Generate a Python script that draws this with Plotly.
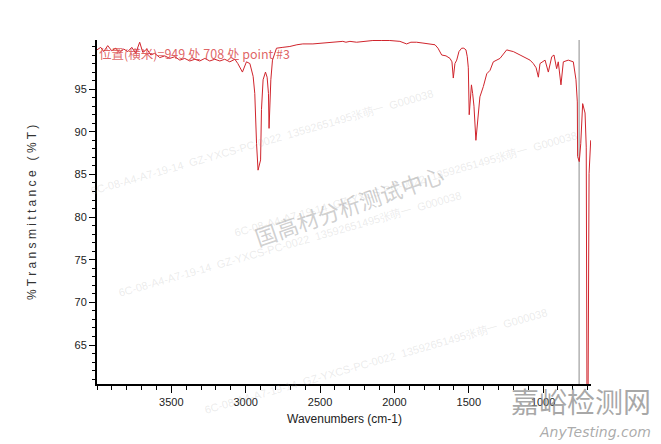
import plotly.graph_objects as go

# Spectrum data (wavenumber cm-1, % transmittance)
wavenumbers = [4000, 3975, 3955, 3928, 3901, 3874, 3847, 3820, 3793, 3766, 3740, 3713, 3692, 3665,
               3638, 3612, 3578, 3544, 3511, 3477, 3443, 3410, 3376, 3342, 3309, 3275, 3242, 3208,
               3174, 3141, 3107, 3073, 3053, 3022, 2995, 2972, 2950, 2939, 2927, 2917, 2900, 2894,
               2883, 2867, 2856, 2847, 2843, 2838, 2831, 2820, 2793, 2750, 2703, 2656, 2616, 2548,
               2481, 2414, 2347, 2326, 2299, 2254, 2198, 2145, 2085, 2031, 1963, 1918, 1889, 1851,
               1808, 1761, 1727, 1707, 1682, 1653, 1626, 1613, 1604, 1593, 1581, 1566, 1548, 1533,
               1519, 1510, 1503, 1497, 1487, 1482, 1474, 1465, 1452, 1445, 1436, 1425, 1402, 1379,
               1357, 1335, 1290, 1245, 1223, 1200, 1155, 1110, 1088, 1066, 1047, 1032, 1021, 987,
               965, 942, 927, 909, 898, 880, 864, 831, 797, 779, 770, 768, 757, 747, 734, 718,
               710, 705, 698, 691, 680]
transmittance = [99.6, 99.9, 99.4, 100.1, 99.5, 99.8, 99.3, 99.7, 99.4, 99.9, 99.2, 100.5, 99.3, 99.7,
                 99.0, 99.2, 98.7, 98.9, 98.6, 98.8, 98.4, 98.6, 98.3, 98.5, 98.3, 98.6, 98.3, 98.5,
                 98.3, 98.5, 98.2, 98.5, 98.0, 97.0, 98.2, 98.0, 96.5, 94.5, 88.6, 85.5, 86.7, 92.6,
                 96.1, 97.0, 96.4, 94.5, 90.4, 92.6, 96.1, 98.4, 99.8, 99.9, 100.0, 100.2, 100.3, 100.3,
                 100.4, 100.5, 100.6, 100.5, 100.6, 100.5, 100.6, 100.7, 100.7, 100.7, 100.6, 100.3, 100.5, 100.5,
                 100.4, 100.3, 100.2, 99.8, 99.0, 98.9, 98.6, 98.2, 96.3, 98.0, 98.4, 99.4, 99.8, 99.8,
                 99.6, 98.8, 97.5, 92.0, 95.3, 95.5, 94.5, 93.0, 89.0, 90.5, 92.2, 94.1, 95.3, 96.8,
                 97.2, 98.2, 98.6, 99.6, 99.5, 99.4, 99.0, 98.6, 98.4, 98.0, 97.5, 96.4, 98.0, 98.4,
                 97.0, 98.8, 99.0, 97.4, 98.2, 95.5, 98.2, 98.4, 98.2, 96.1, 93.5, 87.1, 86.5, 88.6, 93.3, 92.2,
                 88.2, 58.0, 58.0, 85.1, 89.0]

cursor_wn = 758
x_range = [4000, 678]
y_range = [60.43, 100.76]
x_ticks = [3500, 3000, 2500, 2000, 1500, 1000]
y_ticks = [65, 70, 75, 80, 85, 90, 95]

peak_label = "位置(横米)=949 处 708 处 point #3"
x_title = "Wavenumbers (cm-1)"
y_title = "% T r a n s m i t t a n c e   ( % T )"
center_mark = "国高材分析测试中心"
wm_line = "6C-08-A4-A7-19-14  GZ-YXCS-PC-0022  13592651495张萌一  G000038"
logo_cn = "嘉峪检测网"
logo_en = "AnyTesting.com"

fig = go.Figure()
fig.add_trace(go.Scatter(x=[cursor_wn, cursor_wn], y=y_range, mode="lines",
                         line=dict(color="#8c8c8c", width=1), hoverinfo="skip"))
fig.add_trace(go.Scatter(x=wavenumbers, y=transmittance, mode="lines",
                         line=dict(color="#d0242c", width=1)))

font_main = "Liberation Sans, Arial, sans-serif"
fig.update_layout(
    width=661, height=444,
    margin=dict(l=97, r=70, t=40, b=60),
    paper_bgcolor="white", plot_bgcolor="white",
    showlegend=False,
    font=dict(family=font_main, size=11, color="#222"),
    xaxis=dict(range=x_range, tickmode="array", tickvals=x_ticks,
               showgrid=False, zeroline=False, showline=True, linecolor="black", linewidth=2,
               ticks="outside", ticklen=7, tickwidth=1, tickcolor="black",
               tickfont=dict(size=11, color="#222"),
               minor=dict(dtick=100, ticks="outside", ticklen=4, tickcolor="black", showgrid=False)),
    yaxis=dict(range=y_range, tickmode="array", tickvals=y_ticks,
               showgrid=False, zeroline=False, showline=True, linecolor="black", linewidth=2,
               ticks="outside", ticklen=6, tickwidth=1, tickcolor="black",
               tickfont=dict(size=11, color="#222"),
               minor=dict(dtick=1, tick0=0, ticks="outside", ticklen=3, tickcolor="black", showgrid=False)),
)

ann = []
# faint diagonal watermarks
for (x, y) in [(-0.02, 0.87), (0.27, 0.58), (0.39, 0.24), (0.21, -0.10)]:
    ann.append(dict(text=wm_line, xref="paper", yref="paper", x=x, y=y, showarrow=False,
                    textangle=-16, font=dict(size=11, color="rgba(165,165,165,0.22)")))
ann.append(dict(text=center_mark, xref="paper", yref="paper", x=0.51, y=0.52, showarrow=False,
                textangle=-19, font=dict(family="Noto Sans CJK SC", size=22, color="rgba(150,150,150,0.45)")))
ann.append(dict(text=peak_label, xref="paper", yref="paper", x=0.0, y=0.962, xanchor="left",
                yanchor="middle", showarrow=False,
                font=dict(family="Noto Sans CJK SC, " + font_main, size=12.5, color="rgba(215,60,60,0.8)")))
ann.append(dict(text=x_title, xref="paper", yref="paper", x=0.5, y=-0.103, yanchor="middle",
                showarrow=False, font=dict(size=12, color="#222")))
ann.append(dict(text=y_title, xref="paper", yref="paper", x=-0.1316, y=0.50, xanchor="center",
                yanchor="middle", showarrow=False, textangle=-90, font=dict(size=12, color="#333")))
ann.append(dict(text=logo_cn, xref="paper", yref="paper", x=1.1255, y=-0.048, xanchor="right",
                yanchor="middle", showarrow=False,
                font=dict(family="Noto Sans CJK SC", size=28, color="rgba(140,140,140,0.75)")))
ann.append(dict(text="<i>" + logo_en + "</i>", xref="paper", yref="paper", x=1.1255, y=-0.14,
                xanchor="right", yanchor="middle", showarrow=False,
                font=dict(family="DejaVu Sans", size=14, color="rgba(150,150,150,0.8)")))
fig.update_layout(annotations=ann)

fig.write_html("out.html", config={"displayModeBar": False},
               post_script="document.body.style.margin='0';document.body.style.padding='0';")
